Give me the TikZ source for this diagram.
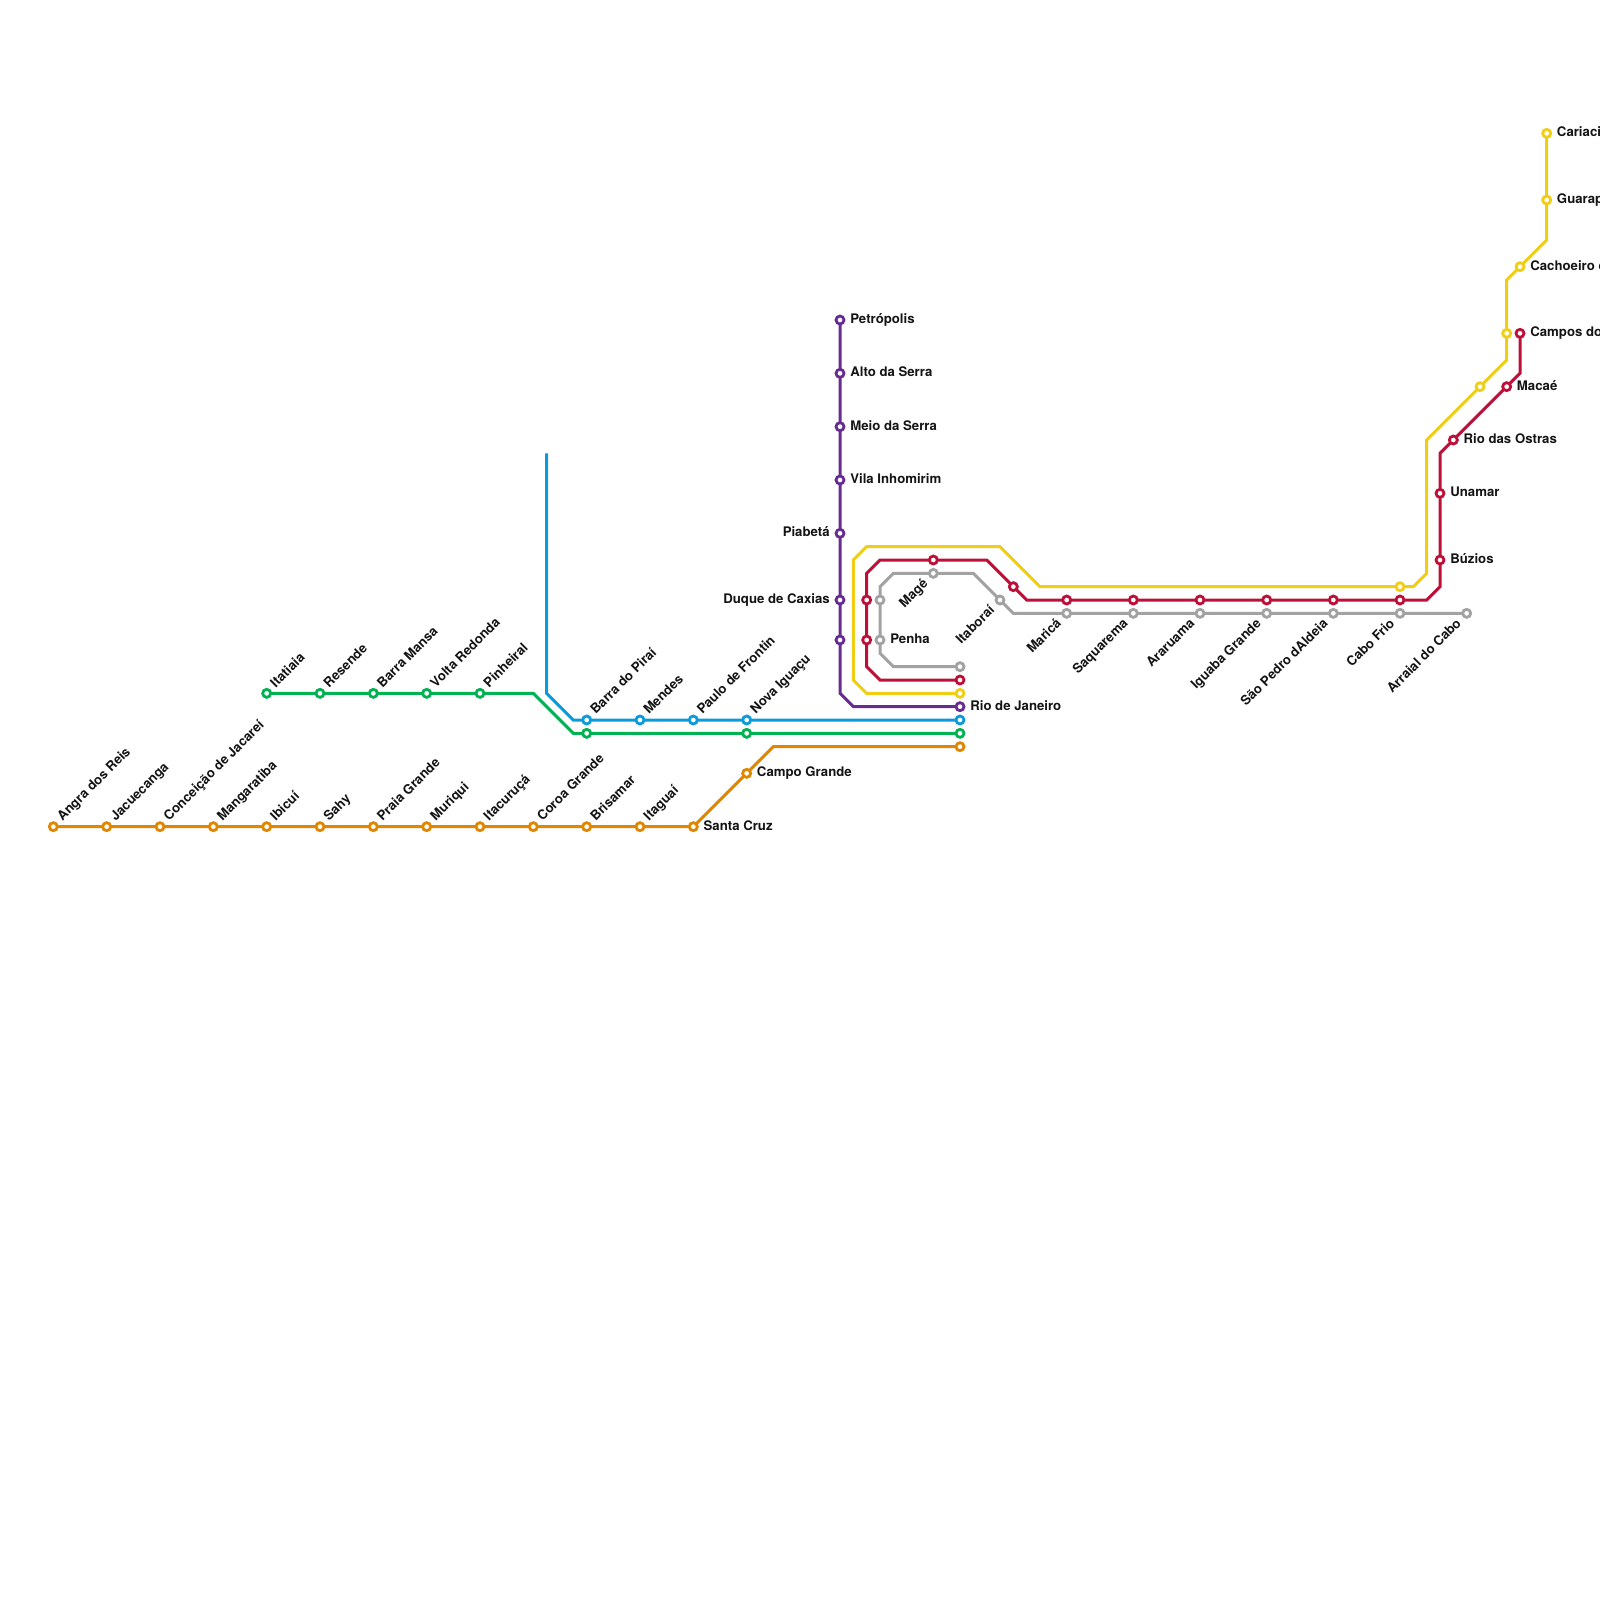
\documentclass[tikz,border=0pt]{standalone}
\usepackage{fontspec}
\setmainfont{TeX Gyre Heros}
\usetikzlibrary{backgrounds}
\definecolor{cor}{HTML}{E08600}
\definecolor{cgr}{HTML}{00B251}
\definecolor{cbl}{HTML}{0C9ADB}
\definecolor{cpu}{HTML}{662C90}
\definecolor{cye}{HTML}{F0CE15}
\definecolor{cre}{HTML}{BD1038}
\definecolor{cgy}{HTML}{A2A2A2}
\tikzset{
  stn/.style={circle,draw=#1,fill=white,line width=1.4pt,minimum size=4pt,inner sep=0pt,outer sep=0pt},
  lin/.style={draw=#1,line width=1.5pt,line join=miter},
  txt/.style={font=\fontsize{6.6}{7}\selectfont\bfseries,inner sep=0pt,outer sep=0pt,text=black!92},
  rlab/.style={txt,anchor=base west,xshift=5.15pt,yshift=-1.7pt},
  llab/.style={txt,anchor=base east,xshift=-5.15pt,yshift=-1.7pt},
  ulab/.style={txt,xshift=4.6pt,yshift=2.6pt,rotate=45,anchor=base west},
  dlab/.style={txt,xshift=-2.4pt,yshift=-5.5pt,rotate=45,anchor=base east},
}
\begin{document}
\begin{tikzpicture}[x=6.66667pt,y=-6.66667pt]
\useasboundingbox (0,0) rectangle (120,120);
\clip (0,0) rectangle (120,120);
% orange
\foreach \n/\x in {o1/4,o2/8,o3/12,o4/16,o5/20,o6/24,o7/28,o8/32,o9/36,o10/40,o11/44,o12/48,o13/52}
  \node[stn=cor] (\n) at (\x,62) {};
\node[stn=cor] (o14) at (56,58) {};
\node[stn=cor] (o15) at (72,56) {};
\coordinate (ob1) at (58,56);
% green
\foreach \n/\x in {g1/20,g2/24,g3/28,g4/32,g5/36}
  \node[stn=cgr] (\n) at (\x,52) {};
\foreach \n/\x in {g6/44,g7/56,g8/72}
  \node[stn=cgr] (\n) at (\x,55) {};
\coordinate (gb1) at (40,52);
\coordinate (gb2) at (43,55);
% blue
\coordinate (b0) at (41,34);
\coordinate (bb1) at (41,52);
\coordinate (bb2) at (43,54);
\foreach \n/\x in {b1/44,b2/48,b3/52,b4/56,b5/72}
  \node[stn=cbl] (\n) at (\x,54) {};
% purple
\foreach \n/\y in {p1/24,p2/28,p3/32,p4/36,p5/40,p6/45,p7/48}
  \node[stn=cpu] (\n) at (63,\y) {};
\node[stn=cpu] (p8) at (72,53) {};
\coordinate (pb1) at (63,52);
\coordinate (pb2) at (64,53);
% yellow
\node[stn=cye] (y1) at (72,52) {};
\node[stn=cye] (y2) at (105,44) {};
\node[stn=cye] (y3) at (111,29) {};
\node[stn=cye] (y4) at (113,25) {};
\node[stn=cye] (y5) at (114,20) {};
\node[stn=cye] (y6) at (116,15) {};
\node[stn=cye] (y7) at (116,10) {};
\coordinate (yb1) at (65,52);
\coordinate (yb2) at (64,51);
\coordinate (yb3) at (64,42);
\coordinate (yb4) at (65,41);
\coordinate (yb5) at (75,41);
\coordinate (yb6) at (78,44);
\coordinate (yb7) at (106,44);
\coordinate (yb8) at (107,43);
\coordinate (yb9) at (107,33);
\coordinate (yb10) at (113,27);
\coordinate (yb11) at (113,21);
\coordinate (yb12) at (116,18);
% red
\node[stn=cre] (r1) at (72,51) {};
\node[stn=cre] (r2) at (65,48) {};
\node[stn=cre] (r3) at (65,45) {};
\node[stn=cre] (r4) at (70,42) {};
\node[stn=cre] (r5) at (76,44) {};
\foreach \n/\x in {r6/80,r7/85,r8/90,r9/95,r10/100,r11/105}
  \node[stn=cre] (\n) at (\x,45) {};
\node[stn=cre] (r12) at (108,42) {};
\node[stn=cre] (r13) at (108,37) {};
\node[stn=cre] (r14) at (109,33) {};
\node[stn=cre] (r15) at (113,29) {};
\node[stn=cre] (r16) at (114,25) {};
\coordinate (rb1) at (66,51);
\coordinate (rb2) at (65,50);
\coordinate (rb3) at (65,43);
\coordinate (rb4) at (66,42);
\coordinate (rb5) at (74,42);
\coordinate (rb6) at (77,45);
\coordinate (rb7) at (107,45);
\coordinate (rb8) at (108,44);
\coordinate (rb9) at (108,34);
\coordinate (rb10) at (114,28);
% grey
\node[stn=cgy] (s1) at (72,50) {};
\node[stn=cgy] (s2) at (66,48) {};
\node[stn=cgy] (s3) at (66,45) {};
\node[stn=cgy] (s4) at (70,43) {};
\node[stn=cgy] (s5) at (75,45) {};
\foreach \n/\x in {s6/80,s7/85,s8/90,s9/95,s10/100,s11/105,s12/110}
  \node[stn=cgy] (\n) at (\x,46) {};
\coordinate (sb1) at (67,50);
\coordinate (sb2) at (66,49);
\coordinate (sb3) at (66,44);
\coordinate (sb4) at (67,43);
\coordinate (sb5) at (73,43);
\coordinate (sb6) at (76,46);
% lines
\begin{pgfonlayer}{background}
\draw[lin=cor] (o1.center)--(o13.center)--(o14.center)--(ob1)--(o15.center);
\draw[lin=cgr] (g1.center)--(g5.center)--(gb1)--(gb2)--(g6.center)--(g8.center);
\draw[lin=cbl] (b0)--(bb1)--(bb2)--(b1.center)--(b5.center);
\draw[lin=cpu] (p1.center)--(p7.center)--(pb1)--(pb2)--(p8.center);
\draw[lin=cye] (y1.center)--(yb1)--(yb2)--(yb3)--(yb4)--(yb5)--(yb6)--(y2.center)--(yb7)--(yb8)--(yb9)--(y3.center)--(yb10)--(y4.center)--(yb11)--(y5.center)--(yb12)--(y6.center)--(y7.center);
\draw[lin=cre] (r1.center)--(rb1)--(rb2)--(r2.center)--(r3.center)--(rb3)--(rb4)--(r4.center)--(rb5)--(r5.center)--(rb6)--(r6.center)--(r11.center)--(rb7)--(rb8)--(r12.center)--(r13.center)--(rb9)--(r14.center)--(r15.center)--(rb10)--(r16.center);
\draw[lin=cgy] (s1.center)--(sb1)--(sb2)--(s2.center)--(s3.center)--(sb3)--(sb4)--(s4.center)--(sb5)--(s5.center)--(sb6)--(s6.center)--(s12.center);
\end{pgfonlayer}
% labels
\foreach \s/\t in {o1/Angra dos Reis,o2/Jacuecanga,o3/Conceição de Jacareí,o4/Mangaratiba,o5/Ibicuí,o6/Sahy,o7/Praia Grande,o8/Muriqui,o9/Itacuruçá,o10/Coroa Grande,o11/Brisamar,o12/Itaguaí,g1/Itatiaia,g2/Resende,g3/Barra Mansa,g4/Volta Redonda,g5/Pinheiral,b1/Barra do Piraí,b2/Mendes,b3/Paulo de Frontin,b4/Nova Iguaçu}
  \node[ulab] (l\s) at (\s) {\t};
\foreach \s/\t in {o13/Santa Cruz,o14/Campo Grande,p1/Petrópolis,p2/Alto da Serra,p3/Meio da Serra,p4/Vila Inhomirim,p8/Rio de Janeiro,s2/Penha,r12/Búzios,r13/Unamar,r14/Rio das Ostras,r15/Macaé,r16/Campos do,y5/Cachoeiro d,y6/Guarap,y7/Cariaci}
  \node[rlab] (l\s) at (\s) {\t};
\foreach \s/\t in {p5/Piabetá,p6/Duque de Caxias}
  \node[llab] (l\s) at (\s) {\t};
\foreach \s/\t in {s4/Magé,s5/Itaboraí,s6/Maricá,s7/Saquarema,s8/Araruama,s9/Iguaba Grande,s10/São Pedro dAldeia,s11/Cabo Frio,s12/Arraial do Cabo}
  \node[dlab] (l\s) at (\s) {\t};
\end{tikzpicture}
\end{document}
